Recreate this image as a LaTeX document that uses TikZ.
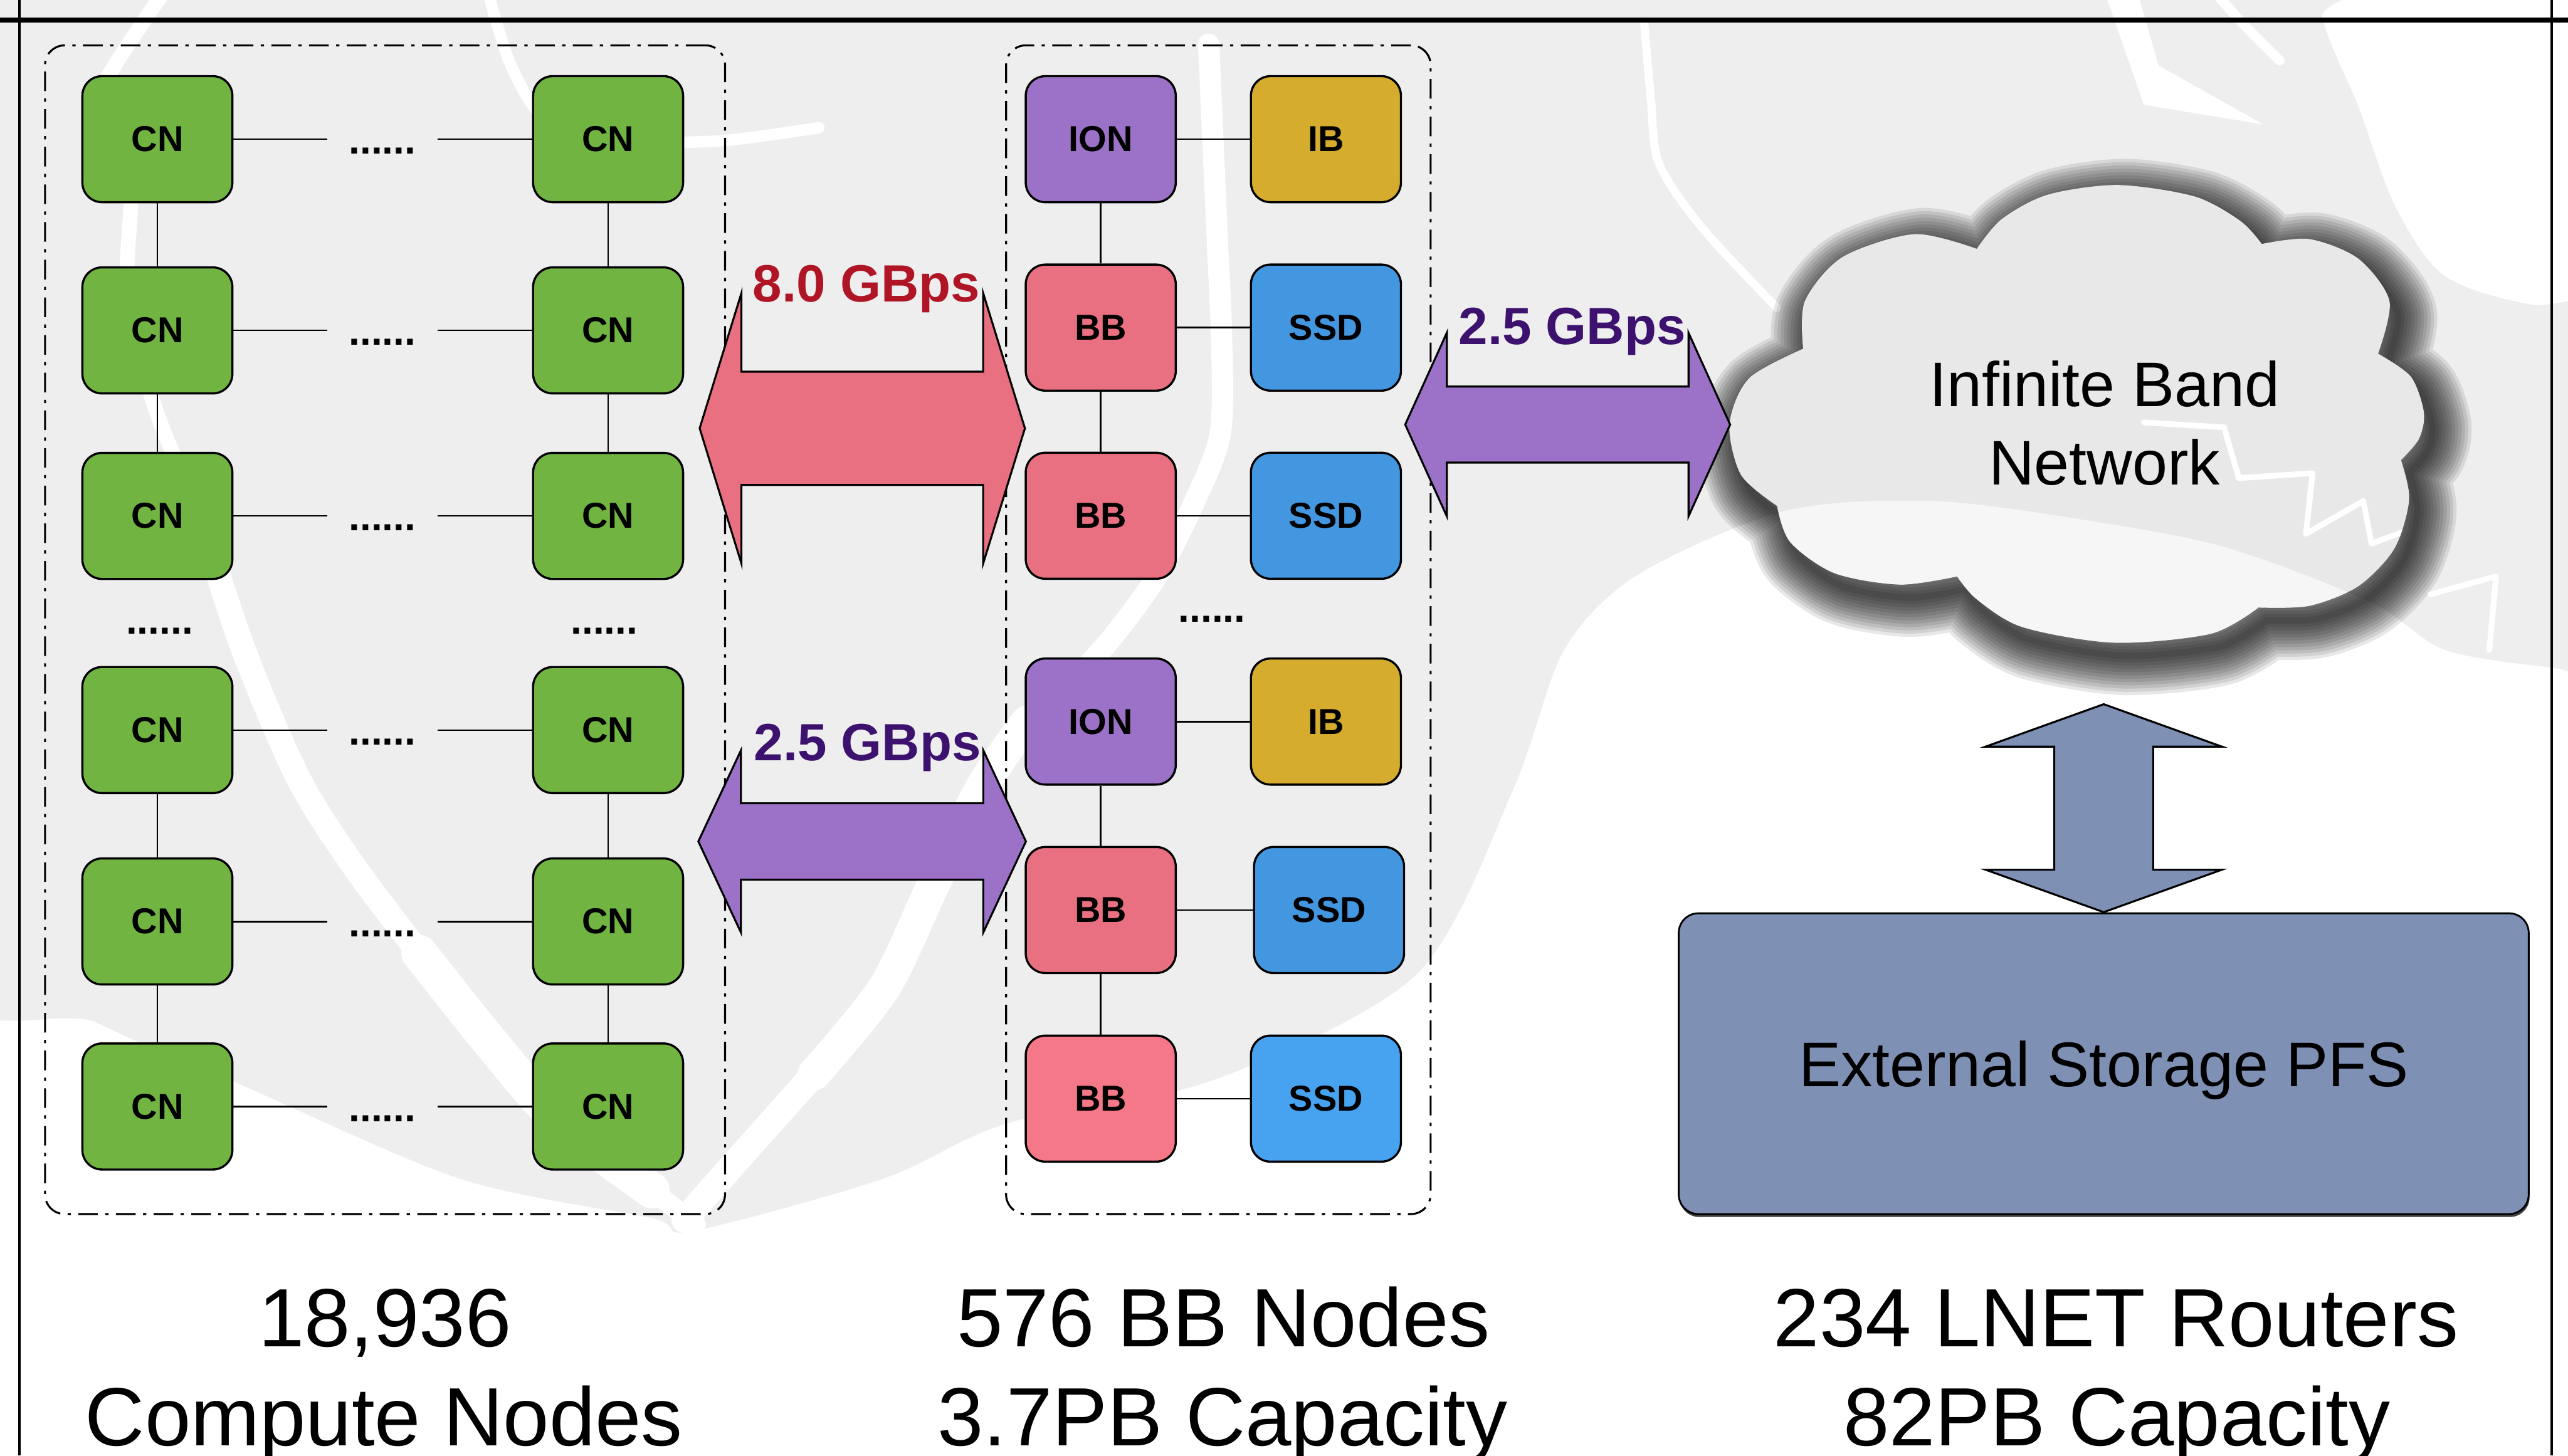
\documentclass[tikz,border=0pt]{standalone}
\usepackage{fontspec}
\setmainfont{Liberation Sans}
\usetikzlibrary{shadows}

\definecolor{cngreen}{HTML}{71B441}
\definecolor{bbpink}{HTML}{E87080}
\definecolor{bbpinklight}{HTML}{F57888}
\definecolor{ssdblue}{HTML}{4396E0}
\definecolor{ssdbluelight}{HTML}{47A3F0}
\definecolor{ionpurple}{HTML}{9B72C8}
\definecolor{ibgold}{HTML}{D5AC2D}
\definecolor{pfsblue}{HTML}{7F90B5}
\definecolor{redlabel}{HTML}{B01526}
\definecolor{purplelabel}{HTML}{3D116E}
\definecolor{cloudfill}{HTML}{E8E8E8}
\definecolor{cloudlight}{HTML}{F6F6F6}
\definecolor{wmgray}{HTML}{EEEEEE}

% outline of the network cloud, one smooth plot per lobe
\newcommand{\cloudoutline}{(1101,213)
  -- plot[smooth] coordinates {(1101,213) (1102,184) (1125,157) (1169,143) (1207,152)}
  -- plot[smooth] coordinates {(1207,152) (1222,134) (1250,119) (1293,113) (1340,120) (1368,135) (1381,149)}
  -- plot[smooth] coordinates {(1381,149) (1410,146) (1440,158) (1459,184) (1452,216)}
  -- plot[smooth] coordinates {(1452,216) (1472,230) (1480,252) (1477,268) (1466,281)}
  -- plot[smooth] coordinates {(1466,281) (1471,305) (1462,335) (1440,358) (1410,370) (1379,371)}
  -- plot[smooth] coordinates {(1379,371) (1350,387) (1291,392.5) (1235,383) (1207,366) (1195,352)}
  -- plot[smooth] coordinates {(1195,352) (1160,357) (1120,350) (1093,331) (1085,309)}
  -- plot[smooth] coordinates {(1085,309) (1063,290) (1056,259) (1068,231) (1101,213)}
  -- cycle}

% horizontal block double arrow: left tip x, right tip x, centre y, head length, head half height, shaft half height, fill
\newcommand{\hdoublearrow}[7]{%
  \draw[arrowline, fill=#7] (#1,#3) -- ({#1+#4},{#3-#5}) -- ({#1+#4},{#3-#6}) -- ({#2-#4},{#3-#6})
    -- ({#2-#4},{#3-#5}) -- (#2,#3) -- ({#2-#4},{#3+#5}) -- ({#2-#4},{#3+#6})
    -- ({#1+#4},{#3+#6}) -- ({#1+#4},{#3+#5}) -- cycle;}
% vertical block double arrow: centre x, top tip y, bottom tip y, head length, head half width, shaft half width, fill
\newcommand{\vdoublearrow}[7]{%
  \draw[arrowline, fill=#7] (#1,#2) -- ({#1+#5},{#2+#4}) -- ({#1+#6},{#2+#4}) -- ({#1+#6},{#3-#4})
    -- ({#1+#5},{#3-#4}) -- (#1,#3) -- ({#1-#5},{#3-#4}) -- ({#1-#6},{#3-#4})
    -- ({#1-#6},{#2+#4}) -- ({#1-#5},{#2+#4}) -- cycle;}

\tikzset{
  unitbox/.style={draw=black, line width=1.3, rounded corners=12, minimum width=91.6,
    minimum height=77, inner sep=0, font=\bfseries\fontsize{22}{26}\selectfont},
  cnbox/.style={unitbox, fill=cngreen},
  bbbox/.style={unitbox, fill=bbpink},
  ssdbox/.style={unitbox, fill=ssdblue},
  ionbox/.style={unitbox, fill=ionpurple},
  ibbox/.style={unitbox, fill=ibgold},
  link/.style={draw=black, line width=1},
  dotrow/.style={inner xsep=13, inner ysep=0, font=\bfseries\fontsize{24.5}{28}\selectfont},
  groupbox/.style={draw=black, line width=1.2, dash pattern=on 12pt off 4.5pt on 2pt off 4.5pt,
    rounded corners=12, inner sep=0},
  arrowline/.style={draw=black, line width=1.2, line join=miter},
  ratelabel/.style={anchor=base, inner sep=0, font=\bfseries\fontsize{32}{38}\selectfont},
  biglabel/.style={anchor=base, inner sep=0, font=\fontsize{50.5}{60}\selectfont},
  wmstroke/.style={draw=white, line cap=round, line join=round},
}

\begin{document}
\begin{tikzpicture}[x=1pt, y=-1pt]
\useasboundingbox (0,0) rectangle (1568,889);
\clip (0,0) rectangle (1568,889);
\fill[white] (0,0) rectangle (1568,889);

% ---------- background emblem ----------
\fill[wmgray] plot[smooth cycle, tension=0.5] coordinates {
  (-60,-60) (1414,-60) (1418,10) (1440,65) (1462,125) (1492,168) (1545,186) (1630,195)
  (1630,415) (1560,408) (1493,397) (1448,368) (1358,334) (1269,317) (1180,306) (1090,312)
  (1000,351) (955,397) (924,482) (865,595) (740,660) (615,686) (539,720) (422,752)
  (398,744) (281,720) (146,662) (60,625) (-60,560)};
\draw[wmstroke, line width=9] plot[smooth] coordinates
  {(100,-5) (70,40) (60,62) (78,75) (80,120) (78,183) (95,250) (122,315)};
\draw[wmstroke, line width=15] plot[smooth] coordinates
  {(122,315) (148,395) (182,475) (216,529) (256,582)};
\draw[wmstroke, line width=22] plot[smooth] coordinates
  {(256,582) (299,636) (341,684) (398,727)};
\draw[wmstroke, line width=12] (398,727) -- (425,748);
\draw[wmstroke, line width=13] plot[smooth] coordinates
  {(738,27) (743,140) (746,211) (745,265) (730,305) (705,354) (670,400) (627,441)};
\draw[wmstroke, line width=20] plot[smooth] coordinates
  {(627,441) (600,480) (570,540) (540,603) (497,656)};
\draw[wmstroke, line width=16] plot[smooth] coordinates {(497,656) (440,720) (418,745)};
\draw[wmstroke, line width=7] plot[smooth] coordinates
  {(298,-5) (312,40) (335,75) (380,86) (440,86) (500,78)};
\draw[wmstroke, line width=5] plot[smooth] coordinates
  {(1004,15) (1008,60) (1013,100) (1040,140) (1085,188)};
\fill[white] (1285,-5) -- (1305,-5) -- (1318,40) -- (1382,76) -- (1309,64) -- cycle;
\draw[wmstroke, line width=6] plot[smooth] coordinates {(1352,-5) (1370,15) (1392,37)};

% ---------- compute node array ----------
\node[groupbox, minimum width=415.2, minimum height=713.8] (cngroup) at (235.1,384.6) {};
\foreach \i/\y in {1/85,2/201.8,3/315.1,4/445.9,5/562.8,6/675.8} {
  \node[cnbox] (cl\i) at (96.1,\y) {CN};
  \node[cnbox] (cr\i) at (371.3,\y) {CN};
  \node[dotrow] (cd\i) at (233.5,\y+7.3) {......};
  \draw[link] (cl\i.east) -- (cl\i.east -| cd\i.west);
  \draw[link] (cd\i.east |- cr\i.west) -- (cr\i.west);
}
\foreach \a/\b in {1/2,2/3,4/5,5/6} {
  \draw[link] (cl\a.south) -- (cl\b.north);
  \draw[link] (cr\a.south) -- (cr\b.north);
}
\node[dotrow, inner xsep=0] (vdl) at (97.4,385.3) {......};
\node[dotrow, inner xsep=0] (vdr) at (369,385.3) {......};

% ---------- burst buffer array ----------
\node[groupbox, minimum width=259.2, minimum height=713.8] (bbgroup) at (743.9,384.6) {};
\node[ionbox] (ion1) at (672.1,85) {ION};
\node[ibbox]  (ib1)  at (809.6,85) {IB};
\node[bbbox]  (bb1)  at (672.1,200.1) {BB};
\node[ssdbox] (ssd1) at (809.6,200.1) {SSD};
\node[bbbox]  (bb2)  at (672.1,315) {BB};
\node[ssdbox] (ssd2) at (809.6,315) {SSD};
\node[ionbox] (ion2) at (672.1,440.7) {ION};
\node[ibbox]  (ib2)  at (809.6,440.7) {IB};
\node[bbbox]  (bb3)  at (672.1,555.8) {BB};
\node[ssdbox] (ssd3) at (811.5,555.8) {SSD};
\node[bbbox, fill=bbpinklight]   (bb4)  at (672.1,671) {BB};
\node[ssdbox, fill=ssdbluelight] (ssd4) at (809.6,671) {SSD};
\draw[link] (ion1.east) -- (ib1.west);
\draw[link] (bb1.east) -- (ssd1.west);
\draw[link] (bb2.east) -- (ssd2.west);
\draw[link] (ion2.east) -- (ib2.west);
\draw[link] (bb3.east) -- (ssd3.west);
\draw[link] (bb4.east) -- (ssd4.west);
\draw[link] (ion1.south) -- (bb1.north);
\draw[link] (bb1.south) -- (bb2.north);
\draw[link] (ion2.south) -- (bb3.north);
\draw[link] (bb3.south) -- (bb4.north);
\node[dotrow, inner xsep=0] (bbdots) at (740,378.3) {......};

% ---------- network cloud with soft shadow ----------
\foreach \w in {4,8,...,48}
  \draw[black, opacity=0.095, line width=\w, line join=round, shift={(5,8)}] \cloudoutline;
\fill[cloudfill] \cloudoutline;
\begin{scope}
  \clip \cloudoutline;
  \fill[cloudlight] (1000,351) -- plot[smooth] coordinates {(1000,351) (1090,312) (1180,306)
    (1269,317) (1358,334) (1448,368) (1493,397)} -- (1500,430) -- (1000,430) -- cycle;
  \draw[wmstroke, line width=3.5] (1309,258) -- (1358,261) -- (1367,292) -- (1412,289)
    -- (1408,326) -- (1443,306) -- (1448,332) -- (1486,318) -- (1484,363);
\end{scope}
\draw[wmstroke, line width=3.5] (1484,363) -- (1524,352) -- (1520,397);
\node[align=center, inner sep=0, font=\fontsize{38.5}{47.8}\selectfont] (ibnet) at (1285,258.3)
  {Infinite Band\\Network};

% ---------- bandwidth arrows ----------
\hdoublearrow{427.2}{625.8}{261.6}{25.5}{82.6}{34.6}{bbpink}
\hdoublearrow{426.4}{626.4}{513.9}{26}{55.6}{23.3}{ionpurple}
\hdoublearrow{858}{1056.4}{259.3}{25.4}{56}{23.2}{ionpurple}
\node[ratelabel, text=redlabel]    (rate80)  at (529,184.4)   {8.0 GBps};
\node[ratelabel, text=purplelabel] (rate25a) at (529.7,464.7) {2.5 GBps};
\node[ratelabel, text=purplelabel] (rate25b) at (960,210.5)   {2.5 GBps};

% ---------- external storage ----------
\vdoublearrow{1284.5}{430.1}{557.1}{25.9}{72.1}{30.2}{pfsblue}
\node[draw=black, line width=1.1, fill=pfsblue, rounded corners=12, minimum width=519,
  minimum height=183.7, text depth=0pt, font=\fontsize{38.5}{46}\selectfont,
  drop shadow={shadow xshift=0.5pt, shadow yshift=-1.8pt, fill=black, opacity=0.75}]
  (pfs) at (1284.5,649.65) {External Storage PFS};

% ---------- captions ----------
\node[biglabel] (cncount)  at (235,822.6)    {18,936};
\node[biglabel] (cnname)   at (234.5,883)    {Compute Nodes};
\node[biglabel] (bbcount)  at (747,822.6)    {576 BB Nodes};
\node[biglabel] (bbcap)    at (746.5,883)    {3.7PB Capacity};
\node[biglabel] (lnetcount) at (1292,822.6)  {234 LNET Routers};
\node[biglabel] (lnetcap)  at (1292.5,883)   {82PB Capacity};

% ---------- frame ----------
\draw[line width=2.8] (0,12.3) -- (1568,12.3);
\draw[line width=1.5] (12,0) -- (12,889);
\draw[line width=1.5] (1558,0) -- (1558,889);
\end{tikzpicture}
\end{document}
